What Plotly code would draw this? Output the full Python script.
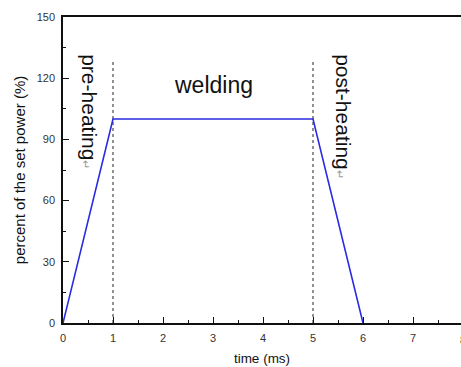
import plotly.graph_objects as go

time_ms = [0, 1, 5, 6]
power_pct = [0, 100, 100, 0]
phase_bounds = [1, 5]
dash_top = 128
x_ticks = [0, 1, 2, 3, 4, 5, 6, 7]
y_ticks = [0, 30, 60, 90, 120, 150]
x_max = 7.96

fig = go.Figure()
for xb in phase_bounds:
    fig.add_trace(go.Scatter(x=[xb, xb], y=[0, dash_top], mode="lines",
                             line=dict(color="#222222", width=1, dash="3px,3px"),
                             showlegend=False, hoverinfo="skip"))
fig.add_trace(go.Scatter(x=time_ms, y=power_pct, mode="lines",
                         line=dict(color="#2a2ae0", width=1.6), showlegend=False))

font = "Liberation Sans, Arial, sans-serif"
arrow = "<span style='font-size:11px;color:#999999'>↵</span>"
fig.add_annotation(x=0.4, y=133, xref="x", yref="y", text="pre-heating" + arrow,
                   textangle=90, showarrow=False, xanchor="center", yanchor="top",
                   xshift=7, font=dict(family=font, size=21, color="#111111"))
fig.add_annotation(x=5.54, y=133, xref="x", yref="y", text="post-heating" + arrow,
                   textangle=90, showarrow=False, xanchor="center", yanchor="top",
                   xshift=4, font=dict(family=font, size=21, color="#111111"))
fig.add_annotation(x=3, y=116.5, xref="x", yref="y", text="welding",
                   showarrow=False, xanchor="center", yanchor="middle",
                   font=dict(family=font, size=23, color="#111111"))
fig.add_annotation(x=8 / x_max, y=0, xref="paper", yref="paper", text="8", showarrow=False,
                   xanchor="center", yanchor="top", yshift=-9,
                   font=dict(family=font, size=11, color="#333333"))

fig.update_layout(
    width=461, height=367,
    margin=dict(l=63, r=0, t=17, b=44),
    paper_bgcolor="white", plot_bgcolor="white",
    font=dict(family=font, size=11, color="#333333"),
    xaxis=dict(range=[0, x_max], tickvals=x_ticks, ticks="inside", ticklen=6,
               tickcolor="#111111", tickwidth=1.2, ticklabelstandoff=4,
               showline=True, linecolor="#111111", linewidth=1.5, mirror=True,
               showgrid=False, zeroline=False,
               minor=dict(dtick=0.5, ticks="inside", ticklen=3, tickcolor="#111111"),
               title=dict(text="time (ms)", font=dict(size=13.5, color="#111111"), standoff=11)),
    yaxis=dict(range=[0, 150], tickvals=y_ticks, ticks="inside", ticklen=6,
               tickcolor="#111111", tickwidth=1.2, ticklabelstandoff=4,
               showline=True, linecolor="#111111", linewidth=1.5, mirror=False,
               showgrid=False, zeroline=False,
               minor=dict(dtick=15, ticks="inside", ticklen=3, tickcolor="#111111"),
               title=dict(text="percent of the set power (%)", font=dict(size=15, color="#111111"), standoff=7)),
)
fig.write_html("out.html")
